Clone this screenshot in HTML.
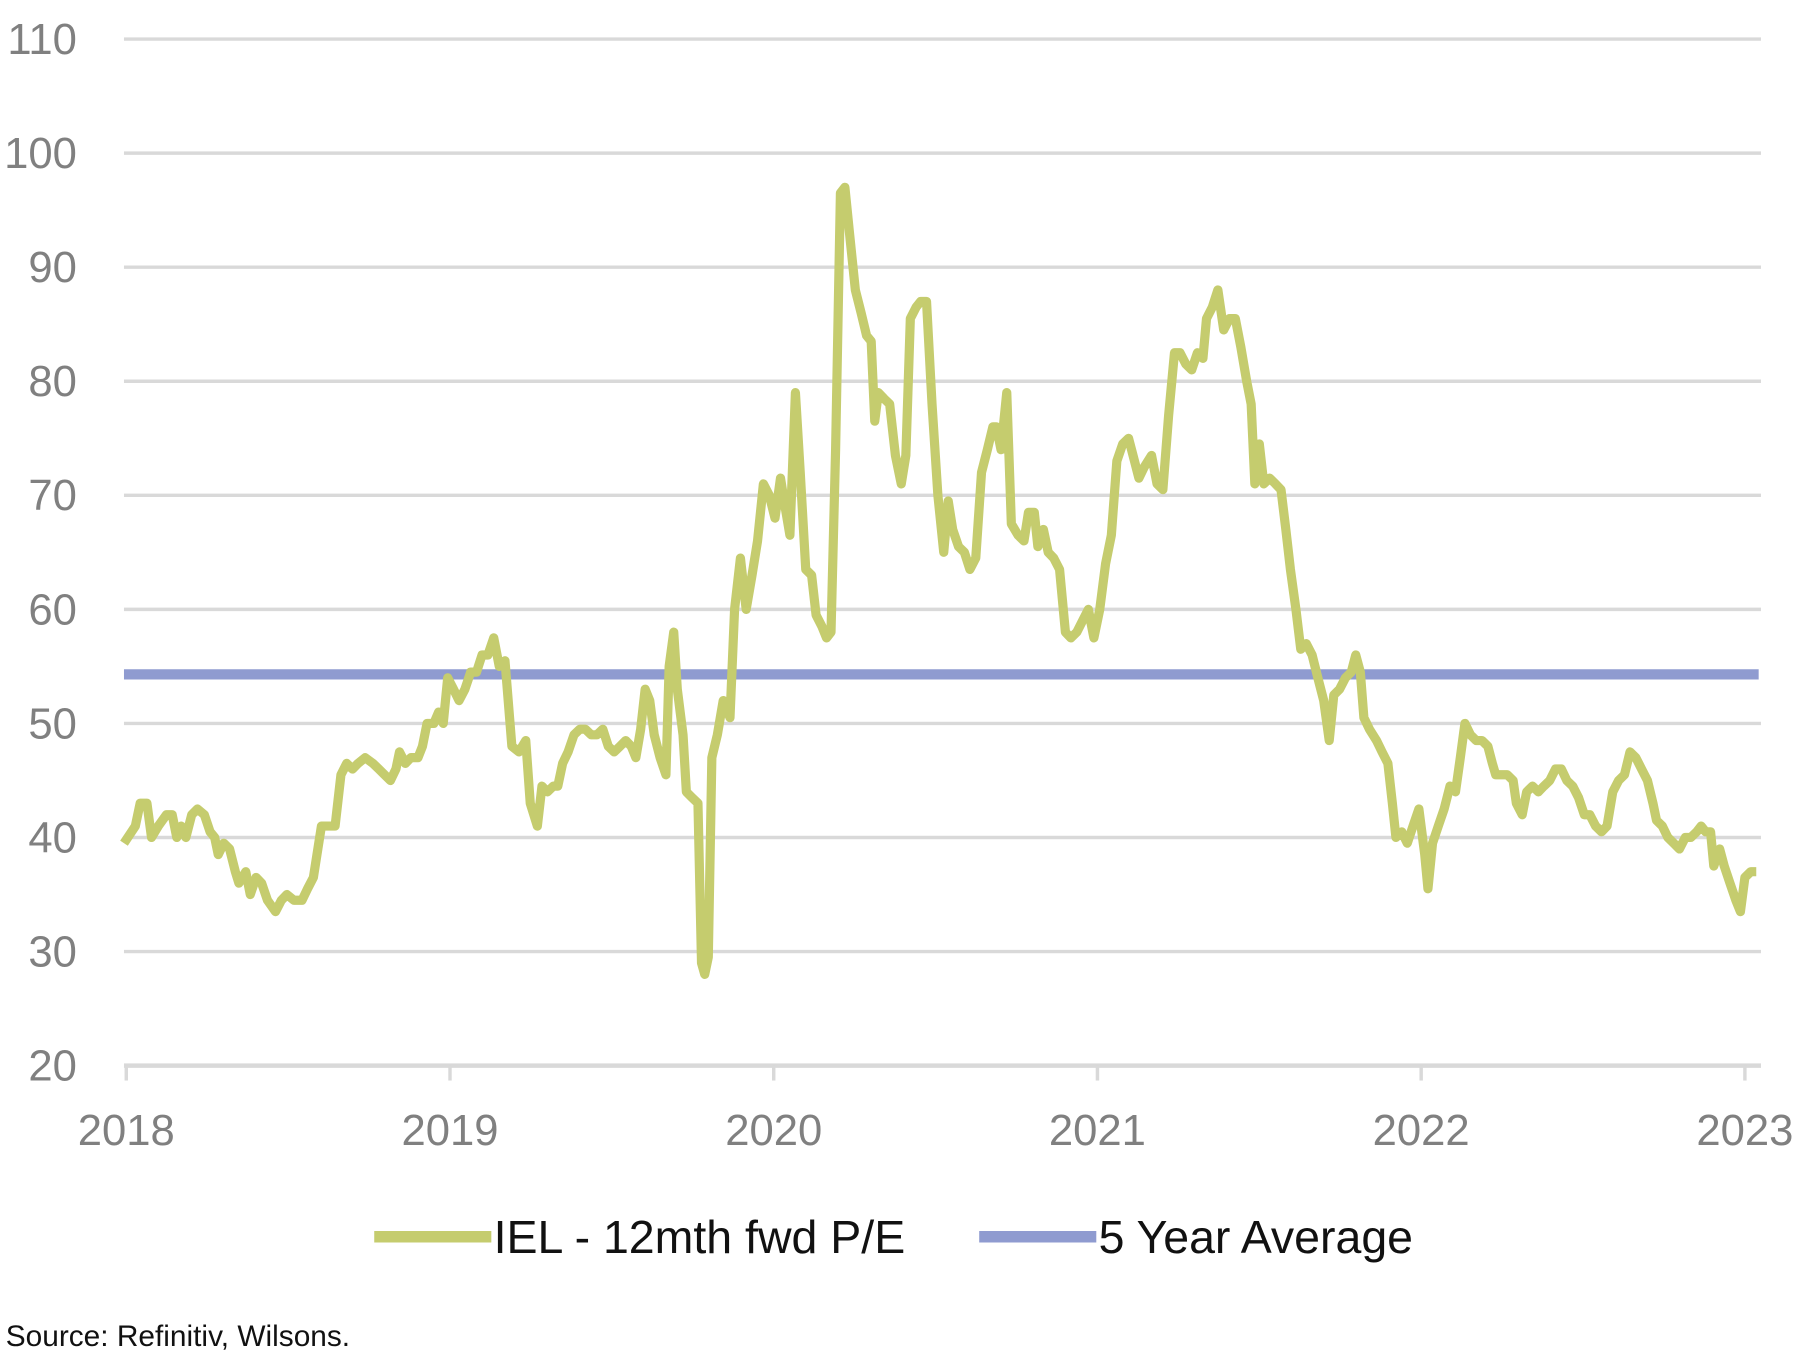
<!DOCTYPE html>
<html><head><meta charset="utf-8"><style>
html,body{margin:0;padding:0;background:#fff;}
svg{display:block;}
text{font-family:"Liberation Sans",sans-serif;}
</style></head><body>
<svg id="chart" width="1800" height="1355" viewBox="0 0 1568 1180" preserveAspectRatio="none" xmlns="http://www.w3.org/2000/svg">
<g id="grid"></g>
<g id="yaxis"></g>
<g id="xaxis"></g>
<g id="series"></g>
<g>
<line x1="326" y1="1077" x2="428" y2="1077" stroke="#c5cc6e" stroke-width="10"/>
<text x="430" y="1091" font-size="40.5" fill="#111">IEL - 12mth fwd P/E</text>
<line x1="853" y1="1077" x2="955" y2="1077" stroke="#8f9bd0" stroke-width="10"/>
<text x="957" y="1091" font-size="40.5" fill="#111">5 Year Average</text>
</g>
<text x="5" y="1172" font-size="26" fill="#111">Source: Refinitiv, Wilsons.</text>
</svg>
<script>
const yTicks=[20,30,40,50,60,70,80,90,100,110];
const xTicks=[2018,2019,2020,2021,2022,2023];
const avgValue=54.3;
const dates=[2017.993,2018.028,2018.043,2018.064,2018.078,2018.099,2018.124,2018.142,2018.156,2018.170,2018.184,2018.202,2018.220,2018.241,2018.259,2018.273,2018.284,2018.301,2018.319,2018.337,2018.348,2018.369,2018.383,2018.401,2018.418,2018.436,2018.461,2018.479,2018.496,2018.518,2018.543,2018.560,2018.578,2018.603,2018.621,2018.645,2018.663,2018.681,2018.699,2018.716,2018.738,2018.762,2018.780,2018.798,2018.816,2018.833,2018.844,2018.862,2018.879,2018.901,2018.915,2018.929,2018.950,2018.965,2018.979,2018.993,
2019.011,2019.028,2019.046,2019.064,2019.082,2019.099,2019.117,2019.135,2019.152,2019.170,2019.191,2019.213,2019.234,2019.248,2019.270,2019.284,2019.301,2019.319,2019.333,2019.348,2019.365,2019.383,2019.401,2019.418,2019.436,2019.454,2019.472,2019.489,2019.507,2019.525,2019.543,2019.560,2019.574,2019.589,2019.603,2019.617,2019.631,2019.649,2019.667,2019.677,2019.691,2019.702,2019.720,2019.730,2019.748,2019.766,2019.777,2019.787,2019.798,2019.809,2019.826,2019.844,2019.865,2019.879,2019.897,2019.915,2019.933,2019.950,2019.968,2019.986,
2020.004,2020.021,2020.035,2020.050,2020.067,2020.082,2020.099,2020.117,2020.131,2020.149,2020.163,2020.177,2020.191,2020.206,2020.220,2020.234,2020.252,2020.270,2020.287,2020.301,2020.312,2020.323,2020.340,2020.358,2020.376,2020.394,2020.408,2020.422,2020.440,2020.454,2020.472,2020.489,2020.507,2020.525,2020.539,2020.553,2020.571,2020.589,2020.606,2020.624,2020.642,2020.660,2020.677,2020.688,2020.702,2020.720,2020.734,2020.755,2020.773,2020.787,2020.805,2020.816,2020.833,2020.848,2020.865,2020.883,2020.901,2020.918,2020.936,2020.954,2020.972,2020.989,
2021.007,2021.025,2021.043,2021.060,2021.078,2021.096,2021.110,2021.128,2021.145,2021.167,2021.184,2021.202,2021.220,2021.238,2021.255,2021.273,2021.291,2021.309,2021.326,2021.337,2021.355,2021.372,2021.390,2021.408,2021.426,2021.443,2021.461,2021.475,2021.486,2021.500,2021.514,2021.532,2021.550,2021.567,2021.582,2021.596,2021.613,2021.628,2021.645,2021.663,2021.681,2021.699,2021.716,2021.730,2021.748,2021.766,2021.784,2021.798,2021.812,2021.823,2021.840,2021.862,2021.879,2021.897,2021.911,2021.922,2021.940,2021.957,2021.975,2021.993,
2022.011,2022.021,2022.035,2022.053,2022.071,2022.089,2022.106,2022.121,2022.135,2022.152,2022.170,2022.188,2022.206,2022.220,2022.230,2022.248,2022.266,2022.284,2022.294,2022.312,2022.326,2022.344,2022.362,2022.379,2022.397,2022.415,2022.433,2022.450,2022.468,2022.486,2022.504,2022.521,2022.539,2022.557,2022.574,2022.592,2022.610,2022.628,2022.645,2022.663,2022.681,2022.699,2022.716,2022.727,2022.745,2022.762,2022.780,2022.798,2022.816,2022.833,2022.851,2022.865,2022.879,2022.894,2022.904,2022.922,2022.936,2022.954,2022.972,2022.986,2023.000,2023.018,2023.035];
const peValues=[39.5,41,43,43,40,41,42,42,40,41,40,42,42.5,42,40.5,40,38.5,39.5,39,37,36,37,35,36.5,36,34.5,33.5,34.5,35,34.5,34.5,35.5,36.5,41,41,41,45.5,46.5,46,46.5,47,46.5,46,45.5,45,46,47.5,46.5,47,47,48,50,50,51,50,54,
53,52,53,54.5,54.5,56,56,57.5,55,55.5,48,47.5,48.5,43,41,44.5,44,44.5,44.5,46.5,47.5,49,49.5,49.5,49,49,49.5,48,47.5,48,48.5,48,47,49.5,53,52,49,47,45.5,55,58,53,49,44,43.5,43,29,28,29.5,47,49,52,50.5,60,64.5,60,63,66,71,70,
68,71.5,69,66.5,79,72,63.5,63,59.5,58.5,57.5,58,74,96.5,97,93,88,86,84,83.5,76.5,79,78.5,78,73.5,71,73.5,85.5,86.5,87,87,78,70,65,69.5,67,65.5,65,63.5,64.5,72,74,76,76,74,79,67.5,66.5,66,68.5,68.5,65.5,67,65,64.5,63.5,58,57.5,58,59,60,57.5,
60,64,66.5,73,74.5,75,73.5,71.5,72.5,73.5,71,70.5,77,82.5,82.5,81.5,81,82.5,82,85.5,86.5,88,84.5,85.5,85.5,83,80,78,71,74.5,71,71.5,71,70.5,67,63.5,60,56.5,57,56,54,52,48.5,52.5,53,54,54.5,56,54.5,50.5,49.5,48.5,47.5,46.5,43,40,40.5,39.5,41,42.5,
38.5,35.5,39.5,41,42.5,44.5,44,47,50,49,48.5,48.5,48,46.5,45.5,45.5,45.5,45,43,42,44,44.5,44,44.5,45,46,46,45,44.5,43.5,42,42,41,40.5,41,44,45,45.5,47.5,47,46,45,43,41.5,41,40,39.5,39,40,40,40.5,41,40.5,40.5,37.5,39,37.5,36,34.5,33.5,36.5,37,37];

const NS='http://www.w3.org/2000/svg';
const X0=110,X1=1520,Y0=928,Y1=34;
function xScale(t){return X0+(t-2018)/(2023-2018)*(X1-X0);}
function yScale(v){return Y0-(v-20)/(110-20)*(Y0-Y1);}
function mk(tag,attrs,parent){const e=document.createElementNS(NS,tag);for(const k in attrs)e.setAttribute(k,attrs[k]);parent.appendChild(e);return e;}
const grid=document.getElementById('grid'),yaxis=document.getElementById('yaxis'),xaxis=document.getElementById('xaxis'),series=document.getElementById('series');
yTicks.forEach(v=>{
  const l=mk('line',{x1:108,x2:1534,y1:yScale(v),y2:yScale(v),stroke:'#d9d9d9','stroke-width':v===20?4:3},grid);
  
  
  const t=mk('text',{x:67,y:yScale(v)+13,'text-anchor':'end','font-size':38,fill:'#808080'},yaxis);
  t.textContent=v;
  
  
});
xTicks.forEach(yr=>{
  const x=xScale(yr);
  const tk=mk('line',{x1:x,x2:x,y1:928,y2:941,stroke:'#d9d9d9','stroke-width':3},xaxis);
  
  
  const t=mk('text',{x:x,y:997,'text-anchor':'middle','font-size':38,fill:'#808080'},xaxis);
  t.textContent=yr;
  
  
});
const avg=mk('line',{x1:108,x2:1532,y1:yScale(avgValue),y2:yScale(avgValue),stroke:'#8f9bd0','stroke-width':9},series);


let d='';
dates.forEach((t,i)=>{d+=(i?'L':'M')+xScale(t).toFixed(1)+','+yScale(peValues[i]).toFixed(1);});
const pe=mk('path',{d:d,fill:'none',stroke:'#c5cc6e','stroke-width':8,'stroke-linejoin':'round'},series);


</script>
</body></html>
